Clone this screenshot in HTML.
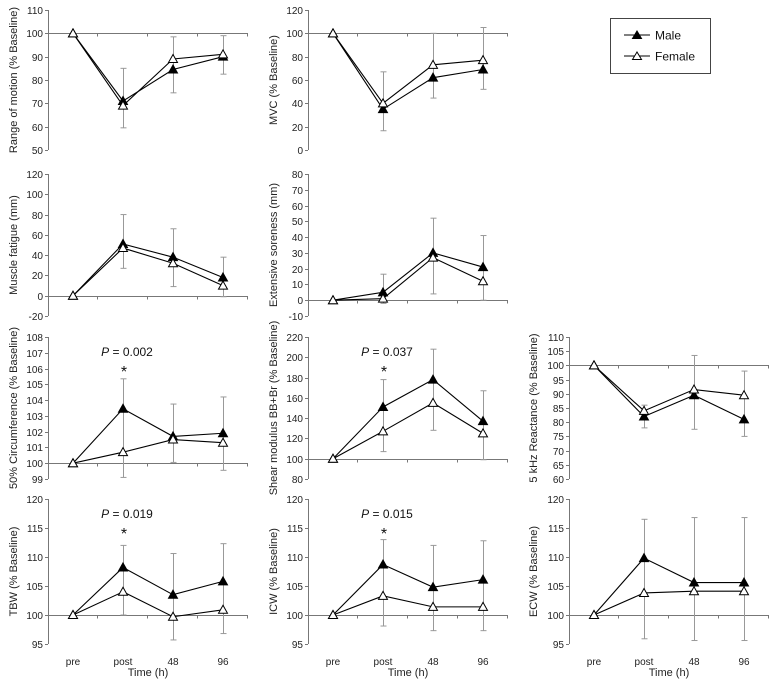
<!DOCTYPE html>
<html><head><meta charset="utf-8">
<style>
html,body{margin:0;padding:0;background:#fff;}
svg{display:block;font-family:"Liberation Sans",Arial,sans-serif;}
</style></head>
<body>
<svg id="chart" width="777" height="680" viewBox="0 0 777 680">
  <g>
    <rect x="610.5" y="18.5" width="100" height="55" fill="#fff" stroke="#444" stroke-width="1"/>
    <g>
      <line x1="624" y1="35" x2="650" y2="35" stroke="#000"/>
      <polygon points="637,31 641.5,38.5 632.5,38.5" fill="#000" stroke="#000"/>
      <text x="655" y="39.5" font-size="12" fill="#111">Male</text>
    </g>
    <g>
      <line x1="624" y1="56" x2="650" y2="56" stroke="#000"/>
      <polygon points="637,52 641.5,59.5 632.5,59.5" fill="#fff" stroke="#000"/>
      <text x="655" y="60.5" font-size="12" fill="#111">Female</text>
    </g>
  </g>
</svg>
<script>
const categories = ["pre","post","48","96"];
// panel data arrays
const romMale = [100,71,84.5,90], romFemale = [100,69,89,91];
const romErrLow = [null,59.5,74.5,82.5], romErrHigh = [null,85,98.5,99];
const mvcMale = [100,35,62,69], mvcFemale = [100,40,73,77];
const mvcErrLow = [null,16.5,44.5,52], mvcErrHigh = [null,67,100,105];
const fatMale = [0,51,38,18], fatFemale = [0,47,32,10];
const fatErrLow = [null,27,9,-1], fatErrHigh = [null,80,66,38];
const sorMale = [0,5,30,21], sorFemale = [0,1,27,12];
const sorErrLow = [null,-2,4,0], sorErrHigh = [null,16.5,52,41];
const cirMale = [100,103.45,101.7,101.9], cirFemale = [100,100.7,101.5,101.3];
const cirErrLow = [null,99.1,100.05,99.55], cirErrHigh = [null,105.35,103.75,104.2];
const shrMale = [100,151,178,137], shrFemale = [100,127,155,125];
const shrErrLow = [null,107,128,99], shrErrHigh = [null,178,208,167];
const reaMale = [100,82,89.5,81], reaFemale = [100,84,91.5,89.5];
const reaErrLow = [null,78,77.5,75], reaErrHigh = [null,86,103.5,98];
const tbwMale = [100,108.2,103.5,105.8], tbwFemale = [100,104,99.7,100.9];
const tbwErrLow = [null,100,95.7,96.8], tbwErrHigh = [null,112,110.6,112.3];
const icwMale = [100,108.7,104.8,106.1], icwFemale = [100,103.3,101.4,101.4];
const icwErrLow = [null,98.1,97.3,97.3], icwErrHigh = [null,113,112,112.8];
const ecwMale = [100,109.8,105.6,105.6], ecwFemale = [100,103.8,104.1,104.1];
const ecwErrLow = [null,95.9,95.6,95.6], ecwErrHigh = [null,116.5,116.8,116.8];

const colX = [48,308,569];
const rowY = [[10,150],[174,316],[337,479],[499,644]];
const panels = [
 {id:"range-of-motion",col:0,row:0,min:50,max:110,step:10,base:100,label:"Range of motion (% Baseline)",m:romMale,f:romFemale,lo:romErrLow,hi:romErrHigh},
 {id:"mvc",col:1,row:0,min:0,max:120,step:20,base:100,label:"MVC (% Baseline)",m:mvcMale,f:mvcFemale,lo:mvcErrLow,hi:mvcErrHigh},
 {id:"muscle-fatigue",col:0,row:1,min:-20,max:120,step:20,base:0,label:"Muscle fatigue (mm)",m:fatMale,f:fatFemale,lo:fatErrLow,hi:fatErrHigh},
 {id:"extensive-soreness",col:1,row:1,min:-10,max:80,step:10,base:0,label:"Extensive soreness (mm)",m:sorMale,f:sorFemale,lo:sorErrLow,hi:sorErrHigh},
 {id:"circumference",col:0,row:2,min:99,max:108,step:1,base:100,label:"50% Circumference (% Baseline)",m:cirMale,f:cirFemale,lo:cirErrLow,hi:cirErrHigh,p:"0.002"},
 {id:"shear-modulus",col:1,row:2,min:80,max:220,step:20,base:100,label:"Shear modulus BB+Br (% Baseline)",m:shrMale,f:shrFemale,lo:shrErrLow,hi:shrErrHigh,p:"0.037"},
 {id:"reactance",col:2,row:2,min:60,max:110,step:5,base:100,label:"5 kHz Reactance (% Baseline)",m:reaMale,f:reaFemale,lo:reaErrLow,hi:reaErrHigh},
 {id:"tbw",col:0,row:3,min:95,max:120,step:5,base:100,label:"TBW (% Baseline)",m:tbwMale,f:tbwFemale,lo:tbwErrLow,hi:tbwErrHigh,p:"0.019"},
 {id:"icw",col:1,row:3,min:95,max:120,step:5,base:100,label:"ICW (% Baseline)",m:icwMale,f:icwFemale,lo:icwErrLow,hi:icwErrHigh,p:"0.015"},
 {id:"ecw",col:2,row:3,min:95,max:120,step:5,base:100,label:"ECW (% Baseline)",m:ecwMale,f:ecwFemale,lo:ecwErrLow,hi:ecwErrHigh}
];
const NS="http://www.w3.org/2000/svg";
const svg=document.getElementById("chart");
function mk(tag,attrs,parent){const e=document.createElementNS(NS,tag);for(const k in attrs)e.setAttribute(k,attrs[k]);parent.appendChild(e);return e;}
const AX="#777";
panels.forEach(p=>{
  const x0=colX[p.col], y0=rowY[p.row][0], y1=rowY[p.row][1];
  const ys=v=>y1-(v-p.min)/(p.max-p.min)*(y1-y0);
  const xs=i=>x0+25+50*i;
  const g=mk("g",{},svg);
  
  
  const ya=mk("g",{},g);
  
  
  mk("line",{x1:x0+.5,y1:y0,x2:x0+.5,y2:y1,stroke:AX},ya);
  for(let v=p.min;v<=p.max+1e-9;v+=p.step){
    const y=Math.round(ys(v))+.5;
    mk("line",{x1:x0-3,y1:y,x2:x0,y2:y,stroke:AX},ya);
    const t=mk("text",{x:x0-5,y:y+3.5,"font-size":10,"text-anchor":"end",fill:"#222"},ya);
    t.textContent=String(Math.round(v*100)/100);
  }
  const lx=[14,274,534][p.col], ly=(y0+y1)/2;
  const lab=mk("text",{x:lx,y:ly,"font-size":11,"text-anchor":"middle",fill:"#222",transform:`rotate(-90 ${lx} ${ly})`,"dominant-baseline":"middle"},g);
  lab.textContent=p.label;
  
  
  const xa=mk("g",{},g);
  
  
  const by=Math.round(ys(p.base))+.5;
  mk("line",{x1:x0,y1:by,x2:x0+200,y2:by,stroke:AX},xa);
  for(let i=1;i<=4;i++) mk("line",{x1:x0+50*i-.5,y1:by,x2:x0+50*i-.5,y2:by+3,stroke:AX},xa);
  if(p.row===3){
    categories.forEach((c,i)=>{const t=mk("text",{x:xs(i),y:665,"font-size":10,"text-anchor":"middle",fill:"#222"},xa);t.textContent=c;});
    const tt=mk("text",{x:x0+100,y:676,"font-size":11,"text-anchor":"middle",fill:"#222"},xa);tt.textContent="Time (h)";
    
    
  }
  p.lo.forEach((lo,i)=>{
    if(lo===null)return;
    const eb=mk("g",{stroke:"#999","stroke-width":1},g);
    
    
    const x=xs(i)+.5;
    mk("line",{x1:x,y1:ys(lo),x2:x,y2:ys(p.hi[i])},eb);
    mk("line",{x1:x-3,y1:ys(lo),x2:x+3,y2:ys(lo)},eb);
    mk("line",{x1:x-3,y1:ys(p.hi[i]),x2:x+3,y2:ys(p.hi[i])},eb);
  });
  [[p.m,"#000","male"],[p.f,"#fff","female"]].forEach(([arr,fill,nm])=>{
    const s=mk("g",{},g);
    
    
    mk("polyline",{points:arr.map((v,i)=>xs(i)+","+ys(v)).join(" "),fill:"none",stroke:"#000","stroke-width":1.1},s);
    arr.forEach((v,i)=>{
      const cx=xs(i), cy=ys(v);
      const tri=mk("polygon",{points:`${cx},${cy-4.5} ${cx+4.5},${cy+3.5} ${cx-4.5},${cy+3.5}`,fill:fill,stroke:"#000","stroke-width":1},s);
      
      
    });
  });
  if(p.p){
    const py=y0+19;
    const t=mk("text",{x:xs(1)+4,y:py,"font-size":12,"text-anchor":"middle",fill:"#111"},g);
    t.innerHTML='<tspan font-style="italic">P</tspan> = '+p.p;
    
    
    const st=mk("text",{x:xs(1)+1,y:py+21,"font-size":16,"text-anchor":"middle",fill:"#111"},g);
    st.textContent="*";
    
    
  }
});
</script>
</body></html>
